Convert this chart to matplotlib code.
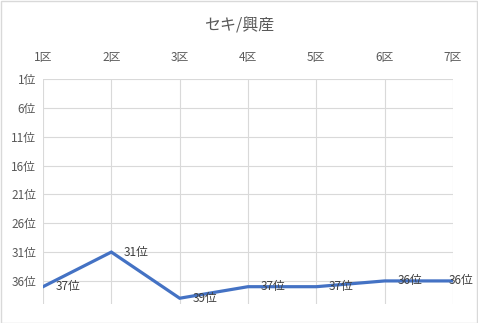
import matplotlib
matplotlib.use("Agg")
import matplotlib.pyplot as plt
from matplotlib.patches import Rectangle

plt.rcParams['font.family'] = ['Noto Sans CJK JP', 'DejaVu Sans']

title = "セキ/興産"
categories = ["1区", "2区", "3区", "4区", "5区", "6区", "7区"]
ranks = [37, 31, 39, 37, 37, 36, 36]
ytick_values = [1, 6, 11, 16, 21, 26, 31, 36]

W, H = 478, 323
fig = plt.figure(figsize=(W / 100, H / 100), dpi=100)
fig.patch.set_facecolor("white")
fig.add_artist(Rectangle((0.5 / W, 0.5 / H), 1 - 1.5 / W, 1 - 1.5 / H, transform=fig.transFigure,
                         fill=False, edgecolor="#D9D9D9", linewidth=1))

ax = fig.add_axes([43 / W, 1 - 304 / H, (453 - 43) / W, (304 - 79) / H])
x = list(range(len(categories)))
ax.plot(x, ranks, color="#4472C4", linewidth=2.3, solid_joinstyle="miter", zorder=3)
n = len(x)
for i, (xi, r) in enumerate(zip(x, ranks)):
    dx = 9 if i < n - 1 else -3
    ax.annotate(f"{r}位", (xi, r), xytext=(dx, 0), textcoords="offset points",
                ha="left", va="center", fontsize=8.5, color="#404040", zorder=4)

ax.set_xlim(0, len(categories) - 1)
ax.set_ylim(40, 1)
ax.set_yticks(ytick_values)
ax.set_yticklabels([f"{v}位" for v in ytick_values])
ax.set_xticks(x)
ax.set_xticklabels(categories)
ax.xaxis.tick_top()
ax.tick_params(axis="x", length=0, pad=11, labelsize=8.5, labelcolor="#595959")
ax.tick_params(axis="y", length=0, pad=5, labelsize=8.5, labelcolor="#595959")
ax.grid(True, color="#D9D9D9", linewidth=0.8)
ax.set_axisbelow(True)
for s in ax.spines.values():
    s.set_visible(False)

fig.text(0.5, 1 - 26 / H, title, ha="center", va="center", fontsize=11.5, color="#595959")

fig.savefig("out.png", dpi=100)
